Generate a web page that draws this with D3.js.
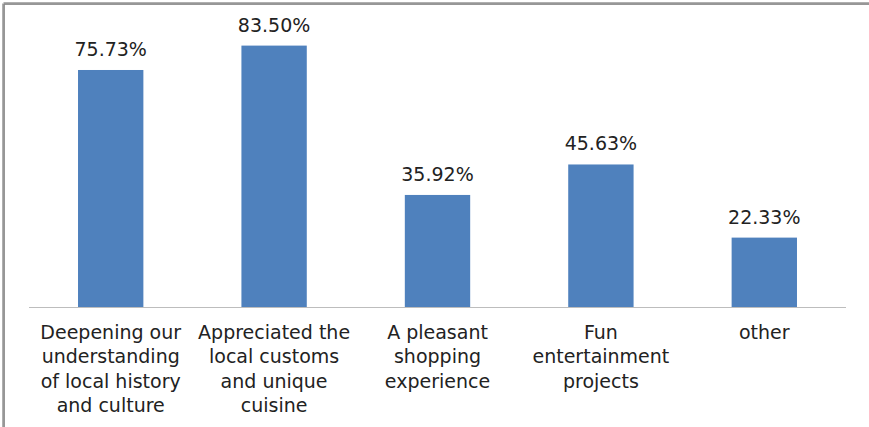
<!DOCTYPE html>
<html><head><meta charset="utf-8">
<script src="https://cdn.jsdelivr.net/npm/d3@7"></script>
<style>body{margin:0;background:#fff}svg{display:block}</style>
</head><body>
<svg id="c" width="869" height="427"></svg>
<script>
const categories = [
  ["Deepening our","understanding","of local history","and culture"],
  ["Appreciated the","local customs","and unique","cuisine"],
  ["A pleasant","shopping","experience"],
  ["Fun","entertainment","projects"],
  ["other"]
];
const values = [75.73, 83.50, 35.92, 45.63, 22.33];
const valueLabels = ["75.73%","83.50%","35.92%","45.63%","22.33%"];
const yDomain = [0, 90];

const svg = d3.select("#c");
const font = "'DejaVu Sans', sans-serif";
// frame (top & left edges visible)
svg.append("line").attr("x1",3.5).attr("y1",3.5).attr("x2",869).attr("y2",3.5).attr("stroke","#b0b0b0").attr("stroke-width",3);
svg.append("line").attr("x1",3.5).attr("y1",3.5).attr("x2",3.5).attr("y2",427).attr("stroke","#b0b0b0").attr("stroke-width",3);
svg.append("line").attr("x1",4).attr("y1",4).attr("x2",869).attr("y2",4).attr("stroke","#7f7f7f").attr("stroke-width",1);
svg.append("line").attr("x1",4).attr("y1",4).attr("x2",4).attr("y2",427).attr("stroke","#7f7f7f").attr("stroke-width",1);

const x = d3.scaleBand().domain(d3.range(values.length)).range([29, 846]).paddingInner(0.6).paddingOuter(0.3);
const y = d3.scaleLinear().domain(yDomain).range([307.7, 25.2]);

svg.selectAll("rect.bar").data(values).join("rect").attr("class","bar")
  .attr("x",(d,i)=>x(i)).attr("width",x.bandwidth())
  .attr("y",d=>y(d)).attr("height",d=>y(0)-y(d))
  .attr("fill","#4f81bd");

svg.append("line").attr("x1",29).attr("x2",846).attr("y1",307.5).attr("y2",307.5).attr("stroke","#bdbdbd").attr("stroke-width",1.2);

svg.selectAll("text.val").data(values).join("text").attr("class","val")
  .attr("x",(d,i)=>x(i)+x.bandwidth()/2).attr("y",d=>y(d)-14)
  .attr("text-anchor","middle").attr("font-family",font).attr("font-size",19).attr("fill","#222")
  .text((d,i)=>valueLabels[i]);

const g = svg.selectAll("text.cat").data(categories).join("text").attr("class","cat")
  .attr("text-anchor","middle").attr("font-family",font).attr("font-size",19).attr("fill","#222");
g.each(function(lines,i){
  const t = d3.select(this);
  lines.forEach((l,j)=>{
    t.append("tspan").attr("x",x(i)+x.bandwidth()/2).attr("y",339+j*24.3).text(l);
  });
});
</script>
</body></html>
